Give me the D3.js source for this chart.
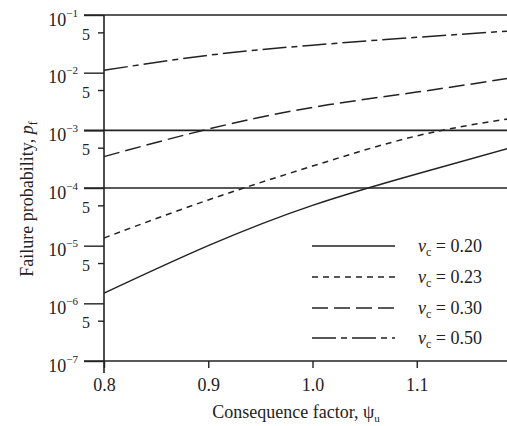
<!DOCTYPE html>
<html><head><meta charset="utf-8">
<script src="https://cdn.jsdelivr.net/npm/d3@7"></script>
<style>
body{margin:0;background:#fff;}
svg{display:block;}
svg text{font-family:"Liberation Serif","Times New Roman",serif !important;}
</style></head>
<body><svg id="c" width="507" height="426"></svg>
<script>
const psi = [0.8, 0.9, 1.0, 1.1, 1.19];
const pf020 = [1.5e-6, 1.0e-5, 5.0e-5, 1.75e-4, 5.0e-4];
const pf023 = [1.36e-5, 6.2e-5, 2.4e-4, 8.0e-4, 1.6e-3];
const pf030 = [3.5e-4, 1.05e-3, 2.5e-3, 4.6e-3, 8.1e-3];
const pf050 = [1.1e-2, 2.0e-2, 3.0e-2, 4.1e-2, 5.3e-2];
const seriesLabels = ["0.20", "0.23", "0.30", "0.50"];
const targetLines = [1e-1, 1e-3, 1e-4];
const xTicks = [0.8, 0.9, 1.0, 1.1];
const yMajor = [1e-1, 1e-2, 1e-3, 1e-4, 1e-5, 1e-6, 1e-7];
const yMajorExp = ["−1", "−2", "−3", "−4", "−5", "−6", "−7"];
const yMinor = [5e-2, 5e-3, 5e-4, 5e-5, 5e-6, 5e-7];

const svg = d3.select("#c");
const x = d3.scaleLinear().domain([0.8, 1.2]).range([104, 521]);
const y = d3.scaleLog().domain([1e-7, 1e-1]).range([361, 15]);

const dashes = [null, "6,5", "16,6", "24,5,6,5"];
const allSeries = [pf020, pf023, pf030, pf050];
const FONT = "'Liberation Serif','Times New Roman',serif";

// horizontal target lines
svg.selectAll("line.tgt").data(targetLines).enter().append("line")
  .attr("x1", 84).attr("x2", 507)
  .attr("y1", d => y(d)).attr("y2", d => y(d))
  .attr("stroke", "#222").attr("stroke-width", 1.6);

// y axis
const yAxisG = svg.append("g").attr("transform", "translate(104,0)")
  .call(d3.axisLeft(y).tickValues(yMajor.concat(yMinor)).tickFormat("").tickSizeOuter(0));
yAxisG.attr("font-family", FONT);
yAxisG.select(".domain").remove();
yAxisG.selectAll(".tick line").attr("stroke", "#222").attr("stroke-width", 1.4)
  .attr("x2", d => yMajor.includes(d) ? -20 : -6);
yAxisG.selectAll(".tick").filter(d => yMinor.includes(d)).append("text")
  .attr("x", -18).attr("dy", "0.45em").attr("text-anchor", "middle")
  .attr("fill", "#222").style("font-size", "16px").text("5");
yAxisG.selectAll(".tick").filter(d => yMajor.includes(d)).each(function(d) {
  const i = yMajor.indexOf(d);
  const t = d3.select(this).append("text").attr("fill", "#222").attr("text-anchor", "end")
    .attr("x", -26).attr("y", 10).style("font-size", "18px");
  t.append("tspan").text("10");
  t.append("tspan").attr("dy", -9).style("font-size", "11px").text(yMajorExp[i]);
});
svg.append("line").attr("x1", 104).attr("x2", 104).attr("y1", 15).attr("y2", 373)
  .attr("stroke", "#222").attr("stroke-width", 1.6);

// x axis
const xAxisG = svg.append("g").attr("transform", "translate(0,361)")
  .call(d3.axisBottom(x).tickValues(xTicks).tickFormat(d3.format(".1f")).tickSizeOuter(0).tickSize(7));
xAxisG.attr("font-family", FONT);
xAxisG.select(".domain").remove();
xAxisG.selectAll(".tick line").attr("stroke", "#222").attr("stroke-width", 1.4);
xAxisG.selectAll(".tick text").attr("fill", "#222").style("font-size", "18px").attr("y", 17);
svg.append("line").attr("x1", 84).attr("x2", 507).attr("y1", 361).attr("y2", 361)
  .attr("stroke", "#222").attr("stroke-width", 1.6);

// curves
const line = d3.line().x((d, i) => x(psi[i])).y(d => y(d)).curve(d3.curveNatural);
allSeries.forEach((s, k) => {
  svg.append("path").datum(s).attr("d", line).attr("fill", "none")
    .attr("stroke", "#222").attr("stroke-width", 1.5)
    .attr("stroke-dasharray", dashes[k]);
});

// legend
const legY = [246, 277, 308, 338];
seriesLabels.forEach((lab, k) => {
  svg.append("line").attr("x1", 312).attr("x2", 395).attr("y1", legY[k]).attr("y2", legY[k])
    .attr("stroke", "#222").attr("stroke-width", 1.5).attr("stroke-dasharray", dashes[k]);
  const t = svg.append("text").attr("x", 418).attr("y", legY[k] + 6).attr("fill", "#222")
    .style("font-size", "18px");
  t.append("tspan").style("font-style", "italic").text("ν");
  t.append("tspan").attr("dy", 4).style("font-size", "12px").text("c");
  t.append("tspan").attr("dy", -4).text(" = " + lab);
});

// axis titles
const xt = svg.append("text").attr("x", 296).attr("y", 418).attr("text-anchor", "middle")
  .attr("fill", "#222").style("font-size", "18px");
xt.append("tspan").text("Consequence factor, ψ");
xt.append("tspan").attr("dy", 4).style("font-size", "11px").text("u");

const yt = svg.append("text").attr("transform", "translate(33,199) rotate(-90)")
  .attr("text-anchor", "middle").attr("fill", "#222").style("font-size", "18px");
yt.append("tspan").text("Failure probability, ");
yt.append("tspan").style("font-style", "italic").text("p");
yt.append("tspan").attr("dy", 4).style("font-size", "12px").text("f");
</script></body></html>
